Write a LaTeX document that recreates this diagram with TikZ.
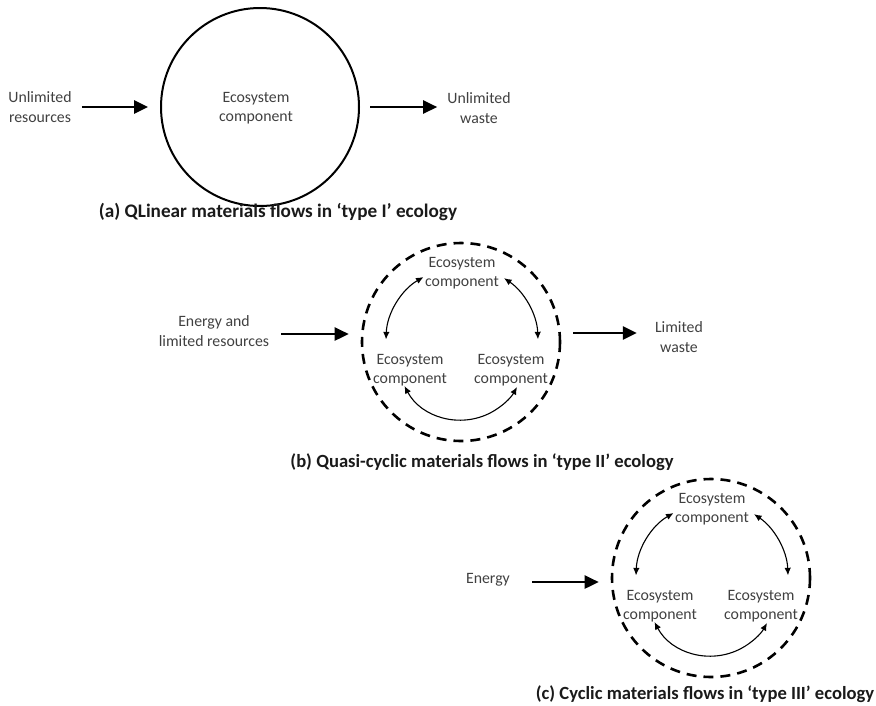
\documentclass[tikz,border=0pt]{standalone}
\usepackage{fontspec}
\setmainfont{Carlito}
\usetikzlibrary{arrows.meta,calc}
\definecolor{labelgray}{HTML}{404040}
\definecolor{titleink}{HTML}{1A1A1A}
\tikzset{
  lbl/.style={align=center, text=labelgray, inner sep=0pt,
    font=\fontsize{15.8}{19.5}\selectfont},
  ttl/.style={text=titleink, inner sep=0pt, font=\bfseries\fontsize{18.6}{22}\selectfont},
  flow/.style={line width=2.6pt, -{Triangle[length=14pt,width=13pt]}},
  link/.style={line width=1.1pt, {Latex[length=7.5pt,width=6.5pt]}-{Latex[length=7.5pt,width=6.5pt]}},
  solidring/.style={circle, draw, line width=2pt, minimum size=198pt, inner sep=0pt},
  dashring/.style={circle, draw, line width=2.6pt, dash pattern=on 10pt off 7pt,
    minimum size=198pt, inner sep=0pt},
}
% three components inside a dashed ring, arcs between them
\newcommand{\cyclering}[2]{%
  \node[dashring] (#1ring) at (#2) {};
  \node[lbl] (#1top) at ($(#1ring.center)+(1,-69)$) {Ecosystem\\component};
  \node[lbl] (#1left) at ($(#1ring.center)+(-51,28)$) {Ecosystem\\component};
  \node[lbl] (#1right) at ($(#1ring.center)+(50,28)$) {Ecosystem\\component};
  \draw[link] ($(#1ring.center)+(240:75)$) arc[start angle=240, end angle=182, radius=75];
  \draw[link] ($(#1ring.center)+(304:77)$) arc[start angle=304, end angle=358, radius=77];
  \draw[link] ($(#1ring.center)+(0,14)+(152:64)$) arc[start angle=152, end angle=29, radius=64];
}
\begin{document}
\begin{tikzpicture}[x=1pt, y=-1pt]
\useasboundingbox (0,0) rectangle (876,705);

% (a) linear flows
\node[solidring] (eco) at (260,107) {};
\node[lbl] (ecotext) at (256,108) {Ecosystem\\component};
\node[lbl] (res) at (40,107) {Unlimited\\resources};
\node[lbl] (waste) at (479,108) {Unlimited\\waste};
\draw[flow] ($(res.east |- eco.center)+(10,0)$) -- ($(eco.west)+(-12,0)$);
\draw[flow] ($(eco.east)+(10,0)$) -- ($(waste.west |- eco.center)+(-10,0)$);
\node[ttl, font=\bfseries\fontsize{19.2}{22}\selectfont] (tA) at (278,212) {(a) QLinear materials flows in ‘type I’ ecology};

% (b) quasi-cyclic flows
\cyclering{b}{461,342}
\node[lbl] (enres) at (214,331) {Energy and\\limited resources};
\node[lbl] (lwaste) at (679,337) {Limited\\waste};
\draw[flow] ($(enres.east |- bring.center)+(12,-8)$) -- ($(bring.west)+(-12,-8)$);
\draw[flow] ($(bring.east)+(12,-9)$) -- ($(lwaste.west |- bring.center)+(-18,-9)$);
\node[ttl] (tB) at (482,462) {(b) Quasi-cyclic materials flows in ‘type II’ ecology};

% (c) cyclic flows
\cyclering{c}{711,578}
\node[lbl] (energy) at (488,580) {Energy};
\draw[flow] ($(energy.east |- cring.center)+(22,4)$) -- ($(cring.west)+(-12,4)$);
\node[ttl] (tC) at (705,694) {(c) Cyclic materials flows in ‘type III’ ecology};
\end{tikzpicture}
\end{document}
